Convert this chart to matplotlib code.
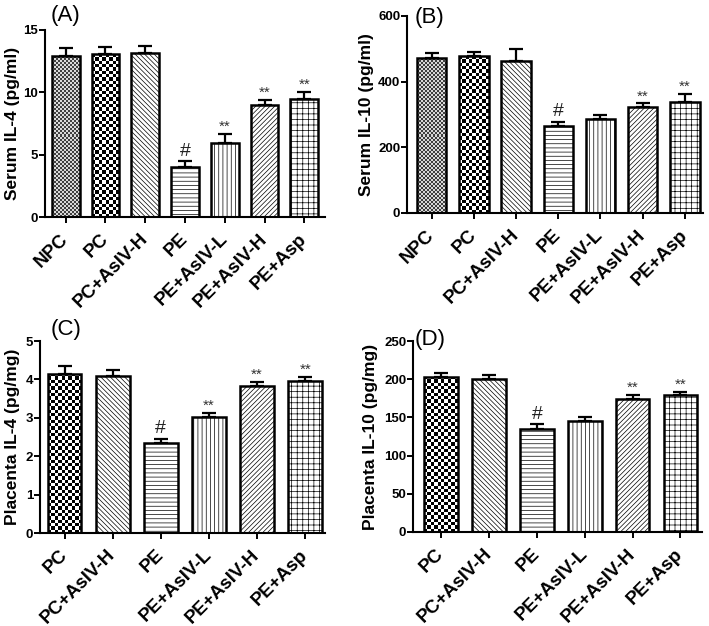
import numpy as np
import matplotlib
matplotlib.use("Agg")
import matplotlib.pyplot as plt

plt.rcParams['font.family'] = ['Liberation Sans', 'DejaVu Sans']
plt.rcParams['hatch.linewidth'] = 0.5

# ---- data ----
cats7 = ["NPC", "PC", "PC+AsIV-H", "PE", "PE+AsIV-L", "PE+AsIV-H", "PE+Asp"]
cats6 = ["PC", "PC+AsIV-H", "PE", "PE+AsIV-L", "PE+AsIV-H", "PE+Asp"]

serum_il4 = [12.9, 13.05, 13.15, 4.05, 5.95, 8.95, 9.45]
serum_il4_err = [0.65, 0.6, 0.55, 0.45, 0.7, 0.45, 0.6]
serum_il4_sig = ["", "", "", "#", "**", "**", "**"]

serum_il10 = [472, 477, 464, 265, 287, 322, 337]
serum_il10_err = [15, 14, 35, 13, 12, 12, 25]
serum_il10_sig = ["", "", "", "#", "", "**", "**"]

plac_il4 = [4.15, 4.09, 2.34, 3.03, 3.83, 3.97]
plac_il4_err = [0.21, 0.15, 0.12, 0.10, 0.11, 0.10]
plac_il4_sig = ["", "", "#", "**", "**", "**"]

plac_il10 = [203, 200, 135, 145, 174, 179]
plac_il10_err = [5, 6, 6, 6, 5, 4]
plac_il10_sig = ["", "", "#", "", "**", "**"]

# fill style per group: ("checker", cell px, dark, light) or a hatch string
fills = {
    "NPC": ("checker", 2, 0.25, 0.85),
    "PC": ("checker", 3.3, 0.0, 1.0),
    "PC+AsIV-H": "\\" * 7,
    "PE": "----",
    "PE+AsIV-L": "||||",
    "PE+AsIV-H": "/" * 7,
    "PE+Asp": "+++",
}

W, H = 709, 626
fig = plt.figure(figsize=(W / 100, H / 100), dpi=100)


def px_axes(left, right, top, bottom):
    return fig.add_axes([left / W, 1 - bottom / H, (right - left) / W, (bottom - top) / H])


def panel(ax, cats, vals, errs, sig, ylim, yticks, ylabel, xlim, lab_x, tag, tag_xy):
    x = np.arange(len(cats))
    ax.set_xlim(*xlim)
    ax.set_ylim(*ylim)
    ax.errorbar(x, vals, yerr=[np.zeros(len(vals)), errs], fmt='none', ecolor='black',
                elinewidth=1.6, capsize=4.7, capthick=1.6, zorder=1)
    bars = ax.bar(x, vals, width=0.7, color='white', edgecolor='black', linewidth=1.8, zorder=2)
    for b, c in zip(bars, cats):
        f = fills[c]
        if isinstance(f, tuple):
            # checkerboard texture, clipped to the bar
            _, cell, dark, light = f
            b.set_facecolor('none')
            x0, y0 = b.get_x(), b.get_y()
            x1, y1 = x0 + b.get_width(), y0 + b.get_height()
            p0 = ax.transData.transform((x0, y0))
            p1 = ax.transData.transform((x1, y1))
            nx = max(1, int(round((p1[0] - p0[0]) / cell)))
            ny = max(1, int(round((p1[1] - p0[1]) / cell)))
            img = np.where(np.indices((ny, nx)).sum(axis=0) % 2 == 0, dark, light)
            im = ax.imshow(img, cmap='gray', vmin=0, vmax=1, extent=(x0, x1, y0, y1),
                           origin='lower', interpolation='nearest', aspect='auto', zorder=1.5)
            im.set_clip_path(b)
        else:
            b.set_hatch(f)
    ax.set_xlim(*xlim)
    ax.set_ylim(*ylim)
    for xi, v, e, s in zip(x, vals, errs, sig):
        if s == "#":
            ax.annotate(s, (xi, v + e), xytext=(0, 1), textcoords='offset points',
                        ha='center', va='bottom', fontsize=14, color='#222222')
        elif s:
            ax.annotate(s, (xi, v + e), xytext=(0, 0), textcoords='offset points',
                        ha='center', va='bottom', fontsize=11, color='#333333')
    ax.set_xticks(x)
    ax.set_xticklabels(cats, rotation=45, ha='right', va='center', rotation_mode='anchor',
                       fontsize=13.5, fontweight='bold')
    ax.set_yticks(yticks)
    ax.set_yticklabels([str(t) for t in yticks], fontsize=9.5, fontweight='bold')
    ax.tick_params(direction='out', length=4, width=1.4)
    ax.tick_params(axis='y', pad=0.8)
    ax.tick_params(axis='x', pad=10)
    for sp in ['top', 'right']:
        ax.spines[sp].set_visible(False)
    for sp in ['left', 'bottom']:
        ax.spines[sp].set_linewidth(1.5)
    ax.set_ylabel(ylabel, fontsize=12.5, fontweight='bold')
    ax.yaxis.set_label_coords(lab_x, 0.5)
    fig.text(tag_xy[0] / W, 1 - tag_xy[1] / H, tag, fontsize=16, ha='center', va='center')


axA = px_axes(45, 325, 30, 217)
panel(axA, cats7, serum_il4, serum_il4_err, serum_il4_sig, (0, 15), [0, 5, 10, 15],
      "Serum IL-4 (pg/ml)", (-0.52, 6.52), -0.09, "(A)", (65, 16))

axB = px_axes(407, 703, 16, 213)
panel(axB, cats7, serum_il10, serum_il10_err, serum_il10_sig, (0, 600), [0, 200, 400, 600],
      "Serum IL-10 (pg/ml)", (-0.585, 6.43), -0.11, "(B)", (430, 18))

axC = px_axes(40, 325, 341, 533)
panel(axC, cats6, plac_il4, plac_il4_err, plac_il4_sig, (0, 5), [0, 1, 2, 3, 4, 5],
      "Placenta IL-4 (pg/mg)", (-0.51, 5.41), -0.07, "(C)", (66, 329))

axD = px_axes(413, 702, 341, 532)
panel(axD, cats6, plac_il10, plac_il10_err, plac_il10_sig, (0, 250), [0, 50, 100, 150, 200, 250],
      "Placenta IL-10 (pg/mg)", (-0.59, 5.45), -0.12, "(D)", (430, 340))

fig.savefig("out.png", dpi=100)
